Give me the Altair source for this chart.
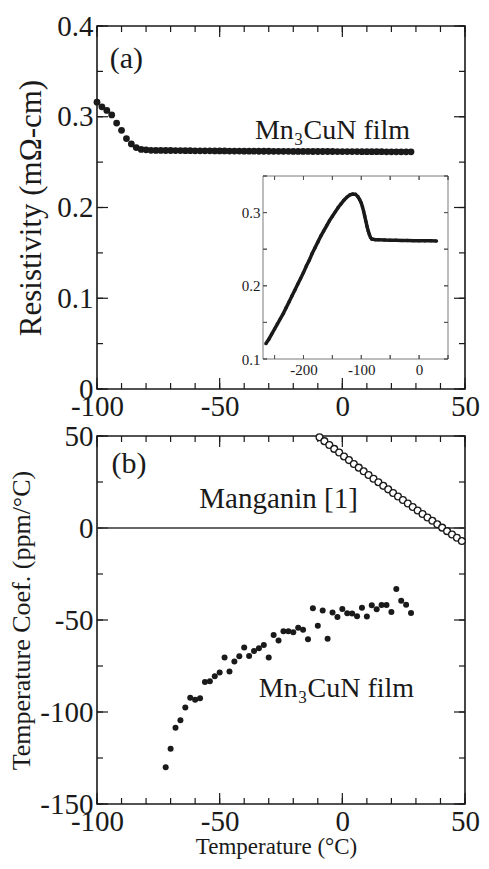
import altair as alt
import pandas as pd

FONT = "Liberation Serif"
INK = "#1a1a1a"

# ---------------- data: panel (a) Mn3CuN film resistivity ----------------
res_T = [-100, -98, -96, -94, -92, -90, -88, -86, -84, -82, -80,
         -78, -76, -74, -72, -70, -68, -66, -64, -62, -60, -58, -56, -54, -52,
         -50, -48, -46, -44, -42, -40, -38, -36, -34, -32, -30, -28, -26, -24,
         -22, -20, -18, -16, -14, -12, -10, -8, -6, -4, -2,
         0, 2, 4, 6, 8, 10, 12, 14, 16, 18, 20, 22, 24, 26, 28]
res_rho = [0.316, 0.311, 0.307, 0.302, 0.293, 0.285, 0.276, 0.270, 0.266, 0.264, 0.2635,
           0.2630, 0.2629, 0.2629, 0.2628, 0.2628, 0.2627, 0.2627, 0.2626, 0.2626, 0.2625,
           0.2625, 0.2624, 0.2624, 0.2623, 0.2623, 0.2623, 0.2622, 0.2622, 0.2622, 0.2621,
           0.2621, 0.2621, 0.2620, 0.2620, 0.2620, 0.2619, 0.2619, 0.2619, 0.2619, 0.2618,
           0.2618, 0.2618, 0.2618, 0.2617, 0.2617, 0.2617, 0.2617, 0.2617, 0.2616,
           0.2616, 0.2616, 0.2616, 0.2616, 0.2615, 0.2615, 0.2615, 0.2615, 0.2615, 0.2614,
           0.2614, 0.2614, 0.2614, 0.2614, 0.2613]

# inset: wide temperature range
ins_T = [-265, -260, -255, -250, -245, -240, -235, -230, -225, -220, -215, -210,
         -205, -200, -195, -190, -185, -180, -175, -170, -165, -160, -155, -150,
         -145, -140, -135, -130, -125, -120, -115, -110, -106, -103, -100, -98,
         -96, -94, -92, -90, -88, -86, -84, -82, -80, -75, -70, -60, -50, -40,
         -30, -20, -10, 0, 10, 20, 30]
ins_rho = [0.121, 0.127, 0.134, 0.141, 0.148, 0.155, 0.162, 0.170, 0.178, 0.186, 0.194, 0.202,
           0.210, 0.218, 0.227, 0.235, 0.244, 0.252, 0.260, 0.268, 0.275, 0.282, 0.289, 0.295,
           0.301, 0.307, 0.312, 0.317, 0.321, 0.324, 0.3255, 0.325, 0.322, 0.318, 0.313, 0.308,
           0.302, 0.295, 0.288, 0.281, 0.275, 0.270, 0.266, 0.264, 0.2635, 0.263, 0.2628, 0.2625,
           0.2623, 0.2621, 0.2620, 0.2618, 0.2617, 0.2616, 0.2615, 0.2614, 0.2613]

# ---------------- data: panel (b) temperature coefficient ----------------
mn_T = [-72, -70, -68, -66, -64, -62, -60, -58, -56, -54, -52, -50, -48, -46, -44, -42,
        -40, -38, -36, -34, -32, -30, -28, -26, -24, -22, -20, -18, -16, -14, -12, -10,
        -8, -6, -4, -2, 0, 2, 4, 6, 8, 10, 12, 14, 16, 18, 20, 22, 24, 26, 28]
mn_tcr = [-130, -120, -108.5, -104.5, -97.5, -92.3, -93.4, -92.5, -83.7, -83.3, -80.6, -78.5,
          -70.4, -78, -72.6, -69.7, -64.9, -69.5, -66.8, -65.4, -63.6, -70.4, -58.1, -61.1,
          -56.1, -56.1, -56.6, -54.2, -55.3, -60.4, -43.6, -53.1, -44.8, -60.2, -45.9, -48.4,
          -44, -46.3, -46.5, -47.9, -43.3, -48.1, -42, -44.2, -41.8, -41.8, -45.6, -33.2,
          -39.5, -41.7, -46.2]

mg_T = [-9.3, -7.3, -5.3, -3.3, -1.3, 0.7, 2.7, 4.7, 6.7, 8.7, 10.7, 12.7, 14.7, 16.7, 18.7,
        20.7, 22.7, 24.7, 26.7, 28.7, 30.7, 32.7, 34.7, 36.7, 38.7, 40.7, 42.7, 44.7, 46.7, 48.7]
mg_tcr = [49.3, 47.2, 45.1, 43.0, 41.0, 38.9, 36.9, 34.8, 32.8, 30.8, 28.8, 26.8, 24.9, 22.9,
          21.0, 19.0, 17.1, 15.2, 13.3, 11.4, 9.5, 7.6, 5.7, 3.9, 2.0, 0.2, -1.7, -3.5, -5.3, -7.1]

# ---------------- ticks / labels ----------------
x_ticks_all = [-100, -90, -80, -70, -60, -50, -40, -30, -20, -10, 0, 10, 20, 30, 40, 50]
x_ticks_major = [-100, -50, 0, 50]
ya_ticks_all = [0, 0.05, 0.1, 0.15, 0.2, 0.25, 0.3, 0.35, 0.4]
ya_ticks_major = [0, 0.1, 0.2, 0.3, 0.4]
yb_ticks_all = [-150, -125, -100, -75, -50, -25, 0, 25, 50]
yb_ticks_major = [-150, -100, -50, 0, 50]
ins_x_ticks = [-250, -200, -150, -100, -50, 0, 50]
ins_x_labels = [-200, -100, 0]
ins_y_ticks = [0.1, 0.15, 0.2, 0.25, 0.3, 0.35]
ins_y_labels = [0.1, 0.2, 0.3]

LBL = "(datum.value < 0 ? '-' : '') + format(abs(datum.value), '~g')"

W, HA, HB = 368, 363, 368
GAP = 47
TICK_FS = 29
# inset frame in panel-(a) pixels
IL, IR, IT, IB = 166, 351, 150, 333


def frame_ticks(xs, ys, xax, yax, x_all, x_maj, y_all, y_maj, left, right, top, bottom,
                lmin, lmaj, color, sw):
    out = []
    for vals, ln in ((x_all, lmin), (x_maj, lmaj)):
        src = alt.Chart(pd.DataFrame({"v": vals}))
        xe = alt.X("v:Q", scale=xs, axis=xax)
        out.append(src.mark_rule(color=color, strokeWidth=sw).encode(
            x=xe, y=alt.value(bottom), y2=alt.value(bottom - ln)))
        out.append(src.mark_rule(color=color, strokeWidth=sw).encode(
            x=xe, y=alt.value(top), y2=alt.value(top + ln)))
    for vals, ln in ((y_all, lmin), (y_maj, lmaj)):
        src = alt.Chart(pd.DataFrame({"v": vals}))
        ye = alt.Y("v:Q", scale=ys, axis=yax)
        out.append(src.mark_rule(color=color, strokeWidth=sw).encode(
            y=ye, x=alt.value(left), x2=alt.value(left + ln)))
        out.append(src.mark_rule(color=color, strokeWidth=sw).encode(
            y=ye, x=alt.value(right), x2=alt.value(right - ln)))
    return out


def label(text, x, y, xs, ys, xax, yax, size, align="center", baseline="alphabetic"):
    return alt.Chart(pd.DataFrame({"x": [x], "y": [y], "t": [text]})).mark_text(
        font=FONT, fontSize=size, color=INK, align=align, baseline=baseline
    ).encode(x=alt.X("x:Q", scale=xs, axis=xax),
             y=alt.Y("y:Q", scale=ys, axis=yax),
             text="t:N")


# ---------------- panel (a) ----------------
xa = alt.Scale(domain=[-100, 50], nice=False, zero=False)
ya = alt.Scale(domain=[0, 0.4], nice=False, zero=False)
xa_axis = alt.Axis(values=x_ticks_major, labelExpr=LBL, title=None,
                   labelFontSize=TICK_FS, labelPadding=3)
ya_axis = alt.Axis(values=ya_ticks_major, labelExpr=LBL,
                   title="Resistivity (mΩ-cm)", titleFontSize=31,
                   titlePadding=9, labelFontSize=TICK_FS, labelPadding=4)

df_a = pd.DataFrame({"T": res_T, "rho": res_rho})
pts_a = alt.Chart(df_a).mark_circle(size=46, color=INK, opacity=1).encode(
    x=alt.X("T:Q", scale=xa, axis=xa_axis),
    y=alt.Y("rho:Q", scale=ya, axis=ya_axis),
)

main_a = alt.layer(
    *frame_ticks(xa, ya, xa_axis, ya_axis, x_ticks_all, x_ticks_major, ya_ticks_all,
                 ya_ticks_major, 0, W, 0, HA, 6, 11, INK, 1.2),
    pts_a,
    label("(a)", -88, 0.364, xa, ya, xa_axis, ya_axis, 30, baseline="middle"),
    label("Mn₃CuN film", -4, 0.276, xa, ya, xa_axis, ya_axis, 28),
)

xi = alt.Scale(domain=[-270, 50], range=[IL, IR], nice=False, zero=False)
yi = alt.Scale(domain=[0.1, 0.35], range=[IB, IT], nice=False, zero=False)

ins_x_axis = alt.Axis(orient="bottom", offset=-(HA - IB), values=ins_x_labels, labelExpr=LBL,
                      title=None, labelFontSize=15, labelPadding=3)
ins_y_axis = alt.Axis(orient="left", offset=-IL, values=ins_y_labels, labelExpr=LBL,
                      title=None, labelFontSize=15, labelPadding=3)

box = alt.Chart(pd.DataFrame({"x0": [-270], "x1": [50], "y0": [0.1], "y1": [0.35]})).mark_rect(
    fill="white", stroke="#7a7a7a", strokeWidth=1
).encode(x=alt.X("x0:Q", scale=xi, axis=ins_x_axis), x2="x1:Q",
         y=alt.Y("y0:Q", scale=yi, axis=ins_y_axis), y2="y1:Q")

df_i = pd.DataFrame({"T": ins_T, "rho": ins_rho})
line_i = alt.Chart(df_i).mark_line(color=INK, strokeWidth=3.5).encode(
    x=alt.X("T:Q", scale=xi, axis=ins_x_axis),
    y=alt.Y("rho:Q", scale=yi, axis=ins_y_axis),
)
pts_i = alt.Chart(df_i).mark_circle(size=12, color=INK, opacity=1).encode(
    x=alt.X("T:Q", scale=xi, axis=ins_x_axis),
    y=alt.Y("rho:Q", scale=yi, axis=ins_y_axis),
)

inset = alt.layer(
    box,
    *frame_ticks(xi, yi, ins_x_axis, ins_y_axis, ins_x_ticks, ins_x_ticks, ins_y_ticks,
                 ins_y_ticks, IL, IR, IT, IB, 4, 4, "#555555", 1),
    line_i, pts_i,
)

panel_a = alt.layer(main_a, inset).resolve_scale(
    x="independent", y="independent").properties(width=W, height=HA)

# ---------------- panel (b) ----------------
xb = alt.Scale(domain=[-100, 50], nice=False, zero=False)
yb = alt.Scale(domain=[-150, 50], nice=False, zero=False)

df_mn = pd.DataFrame({"T": mn_T, "tcr": mn_tcr})
df_mg = pd.DataFrame({"T": mg_T, "tcr": mg_tcr})

xb_axis = alt.Axis(values=x_ticks_major, labelExpr=LBL, title="Temperature (°C)",
                   titleFontSize=23, titlePadding=-1, titleX=W / 2 - 5,
                   labelFontSize=TICK_FS, labelPadding=3)
yb_axis = alt.Axis(values=yb_ticks_major, labelExpr=LBL, title="Temperature Coef. (ppm/°C)",
                   titleFontSize=26, titlePadding=5, labelFontSize=TICK_FS, labelPadding=4)

zero_line = alt.Chart(pd.DataFrame({"v": [0]})).mark_rule(color="#333333", strokeWidth=1.6).encode(
    y=alt.Y("v:Q", scale=yb, axis=yb_axis))

pts_mn = alt.Chart(df_mn).mark_circle(size=36, color=INK, opacity=1).encode(
    x=alt.X("T:Q", scale=xb, axis=xb_axis),
    y=alt.Y("tcr:Q", scale=yb, axis=yb_axis),
)
pts_mg = alt.Chart(df_mg).mark_point(shape="circle", filled=True, fill="white", stroke=INK,
                                     strokeWidth=1.3, size=46, opacity=1).encode(
    x=alt.X("T:Q", scale=xb, axis=xb_axis),
    y=alt.Y("tcr:Q", scale=yb, axis=yb_axis),
)

panel_b = alt.layer(
    *frame_ticks(xb, yb, xb_axis, yb_axis, x_ticks_all, x_ticks_major, yb_ticks_all,
                 yb_ticks_major, 0, W, 0, HB, 6, 11, INK, 1.2),
    zero_line,
    pts_mn,
    pts_mg,
    label("(b)", -87, 34.7, xb, yb, xb_axis, yb_axis, 30, baseline="middle"),
    label("Manganin [1]", -26, 11, xb, yb, xb_axis, yb_axis, 29),
    label("Mn₃CuN film", -2.4, -92, xb, yb, xb_axis, yb_axis, 28),
).properties(width=W, height=HB)

chart = alt.vconcat(panel_a, panel_b, spacing=GAP, bounds="flush").properties(
    padding={"left": 0, "top": 3, "right": 0, "bottom": 0}
).configure(font=FONT).configure_view(
    stroke=INK, strokeWidth=1.6
).configure_axis(
    labelFont=FONT, titleFont=FONT, labelColor=INK, titleColor=INK,
    titleFontWeight="normal", grid=False, ticks=False, domain=False,
    labelFlush=False, labelOverlap=False
)

chart.save("out.html", embed_options={"renderer": "svg", "actions": False})
